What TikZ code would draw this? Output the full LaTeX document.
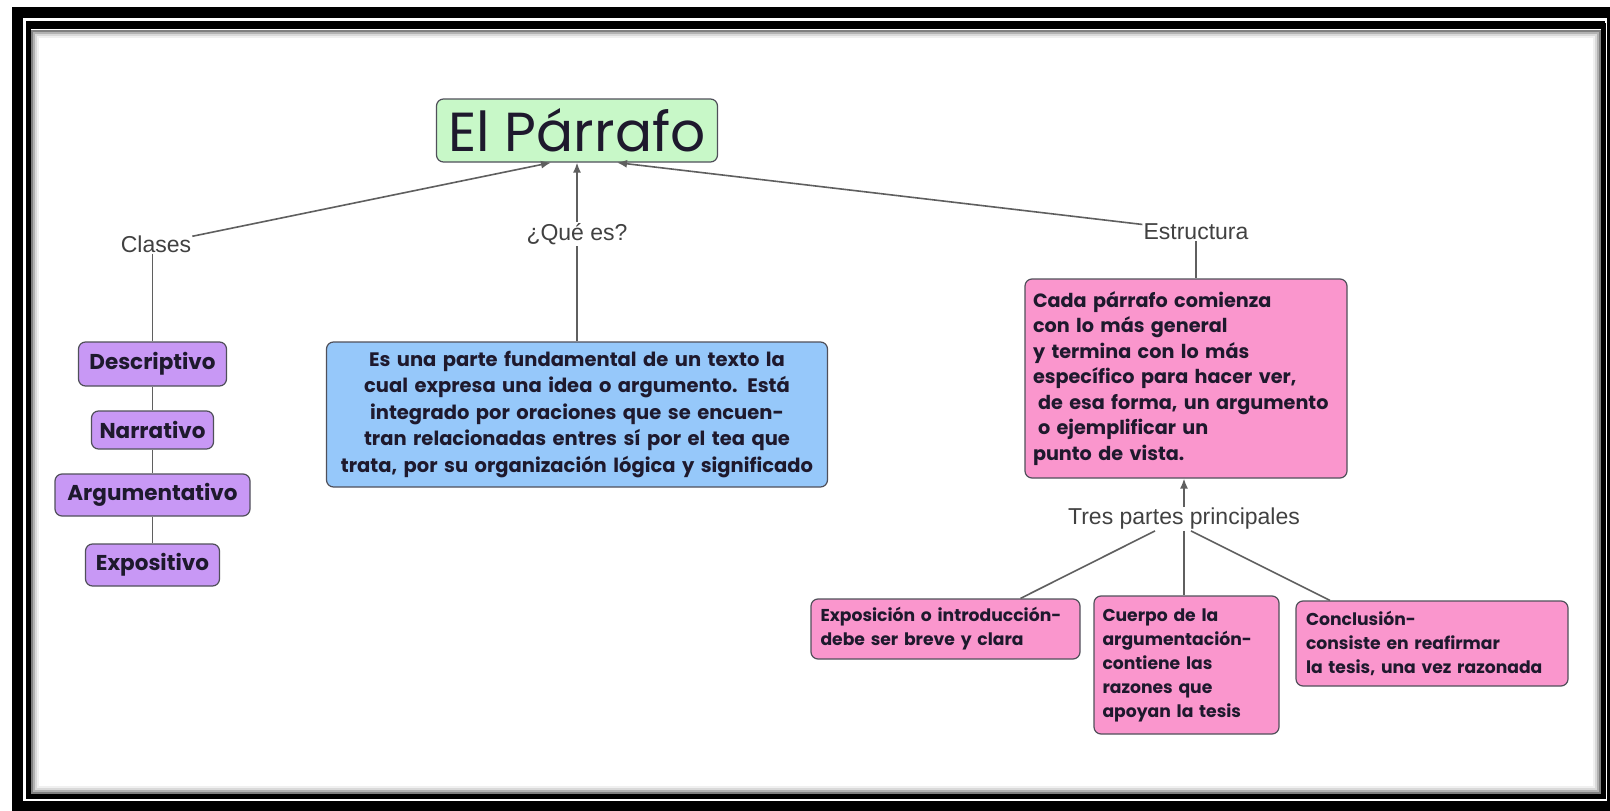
\documentclass[tikz,border=0pt]{standalone}
\usepackage{fontspec}
\setmainfont{Poppins}
\newfontfamily\labelfont{Liberation Sans}
\usetikzlibrary{arrows.meta}

\definecolor{verdeTitulo}{RGB}{200,248,200}
\definecolor{lila}{RGB}{200,152,245}
\definecolor{celeste}{RGB}{150,200,250}
\definecolor{rosa}{RGB}{250,150,205}
\definecolor{borde}{RGB}{80,80,90}
\definecolor{linea}{RGB}{95,95,95}
\definecolor{letra}{RGB}{30,25,45}
\definecolor{rotuloGris}{RGB}{65,65,65}

\begin{document}
\begin{tikzpicture}[x=1pt,y=1pt,yscale=-1,
  caja/.style={draw=borde, line width=1.2pt, rounded corners=7pt, inner sep=0pt, text=letra},
  clase/.style={caja, fill=lila, font=\bfseries\fontsize{21.5}{24}\selectfont},
  rosaCaja/.style={caja, fill=rosa, align=left, font=\bfseries\fontsize{17.2}{24}\selectfont},
  rotulo/.style={inner sep=1pt, text=rotuloGris, font=\labelfont\fontsize{23}{26}\selectfont},
  conector/.style={draw=linea, line width=1.6pt},
  flecha/.style={conector, -{Latex[length=10pt,width=8pt]}}]
	\useasboundingbox (0,0) rectangle (1610,811);
	\fill[white] (0,0) rectangle (1610,811);
	\clip (0,0) rectangle (1610,811);

	%Shape: Frame
	\draw[line width=11pt] (17,12.5) rectangle (1612.5,806.5);
	\draw[line width=5pt] (28,25) rectangle (1603,796);
	\draw[line width=8pt] (26,25) -- (1605,25);
	\draw[line width=2pt, black!50] (31.5,30.5) rectangle (1599.5,792.5);
	\draw[line width=2pt, black!30] (33.5,32.5) rectangle (1597.5,790.5);
	\draw[line width=2pt, black!15] (35.5,34.5) rectangle (1595.5,788.5);
	\draw[line width=2pt, black!6] (37.5,36.5) rectangle (1593.5,786.5);

	% Text Node
	\node[caja, fill=verdeTitulo, minimum width=281pt, minimum height=63pt, font=\fontsize{55}{58}\selectfont] (titulo) at (577,130.5) {El Párrafo};
	% Text Node
	\node[rotulo] (clases) at (156,244) {Clases};
	% Text Node
	\node[rotulo] (quees) at (577,234) {¿Qué es?};
	% Text Node
	\node[rotulo] (estructura) at (1196,232) {Estructura};

	% Text Node
	\node[clase, minimum width=148pt, minimum height=44pt] (descriptivo) at (152.5,364) {Descriptivo};
	\node[clase, minimum width=122pt, minimum height=38pt] (narrativo) at (152.5,430) {Narrativo};
	\node[clase, minimum width=195pt, minimum height=42pt] (argumentativo) at (152.5,495) {Argumentativo};
	\node[clase, minimum width=134pt, minimum height=42pt] (expositivo) at (152.5,565) {Expositivo};

	% Text Node
	\node[caja, fill=celeste, align=center, minimum width=501pt, minimum height=145pt, text width=495pt, font=\bfseries\fontsize{19.5}{26.5}\selectfont] (azul) at (577,414.5) {Es una parte fundamental de un texto la\\cual expresa una idea o argumento. Está\\integrado por oraciones que se encuen-\\tran relacionadas entres sí por el tea que\\trata, por su organización lógica y significado};

	% Text Node
	\node[rosaCaja, minimum width=322pt, minimum height=199pt, text width=306pt, font=\bfseries\fontsize{19.2}{25.5}\selectfont] (cada) at (1186,378.5) {Cada párrafo comienza\\con lo más general\\y termina con lo más\\específico para hacer ver,\\\hspace*{5pt}de esa forma, un argumento\\\hspace*{5pt}o ejemplificar un\\punto de vista.};
	% Text Node
	\node[rotulo] (tres) at (1184,519) {Tres partes principales};

	% Text Node
	\node[rosaCaja, minimum width=269pt, minimum height=60pt, text width=250pt] (expo) at (945.5,629) {Exposición o introducción-\\debe ser breve y clara};
	\node[rosaCaja, minimum width=185pt, minimum height=138pt, text width=168pt] (cuerpo) at (1186.5,665) {Cuerpo de la\\argumentación-\\contiene las\\razones que\\apoyan la tesis};
	\node[rosaCaja, minimum width=272pt, minimum height=85pt, text width=252pt] (concl) at (1432,643.5) {Conclusión-\\consiste en reafirmar\\la tesis, una vez razonada};

	% Connectors
	\draw[flecha] (clases.12) -- ([xshift=-26pt]titulo.south);
	\draw[conector] (azul.north) -- (quees.south);
	\draw[flecha] (quees.north) -- (titulo.south);
	\draw[flecha] (estructura.172) -- ([xshift=40pt]titulo.south);
	\draw[conector] (clases.south -| descriptivo.north) -- (descriptivo.north);
	\draw[conector] (descriptivo) -- (narrativo);
	\draw[conector] (narrativo) -- (argumentativo);
	\draw[conector] (argumentativo) -- (expositivo);
	\draw[conector] (estructura.south) -- (estructura.south |- cada.north);
	\draw[flecha] (tres.north) -- (tres.north |- cada.south);
	\draw[conector] ([xshift=-29pt]tres.south) -- ([xshift=75pt]expo.north);
	\draw[conector] (tres.south) -- (tres.south |- cuerpo.north);
	\draw[conector] ([xshift=7pt]tres.south) -- ([xshift=-102pt]concl.north);
\end{tikzpicture}
\end{document}
